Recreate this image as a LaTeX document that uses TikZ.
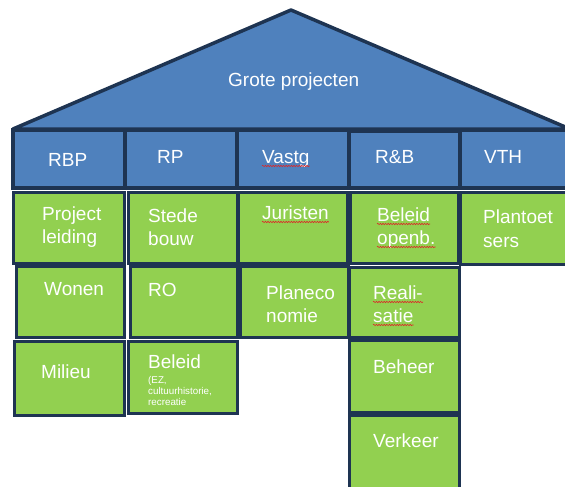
\documentclass[tikz,border=0pt]{standalone}
\usepackage{fontspec}
\setmainfont{Liberation Sans}
\usetikzlibrary{decorations.pathmorphing}
\definecolor{roofblue}{HTML}{4F81BD}
\definecolor{cellgreen}{HTML}{92D050}
\definecolor{edgenavy}{RGB}{30,52,82}
\definecolor{spellred}{RGB}{220,40,40}
\tikzset{
  roof/.style={fill=roofblue, draw=edgenavy, line width=3.5pt, line join=round},
  headbox/.style={fill=roofblue, draw=edgenavy, line width=3.5pt},
  cellbox/.style={fill=cellgreen, draw=edgenavy, line width=3pt},
  lbl/.style={anchor=base west, inner sep=0pt, text=white, font=\fontsize{19}{23}\selectfont},
  small/.style={anchor=base west, inner sep=0pt, text=white, font=\fontsize{9.8}{11}\selectfont},
  spell/.style={draw=spellred, line width=0.6pt,
    decorate, decoration={snake, segment length=2.6pt, amplitude=0.7pt}}
}
\begin{document}
\begin{tikzpicture}[x=1pt,y=-1pt]
\useasboundingbox (0,0) rectangle (565,487);
\clip (0,0) rectangle (565,487);

% roof
\draw[roof] (13,129) -- (291,10) -- (570,129) -- cycle;
\node[lbl] (roofTxt) at (228,86) {Grote projecten};

% department headers
\draw[headbox] (13,130) rectangle (125,188);
\draw[headbox] (125,130) rectangle (237,188);
\draw[headbox] (237,130) rectangle (349,188);
\draw[headbox] (349,131) rectangle (460,188);
\draw[headbox] (460,130) rectangle (572,188);
\node[lbl] (hRBP) at (48,166) {RBP};
\node[lbl] (hRP) at (157,163) {RP};
\node[lbl] (hVastg) at (262,163) {Vastg};
\node[lbl] (hRB) at (375,163) {R\&B};
\node[lbl] (hVTH) at (484,163) {VTH};

% row 1
\draw[cellbox] (13,192) rectangle (124,263);
\draw[cellbox] (128,192) rectangle (237,263);
\draw[cellbox] (238,192) rectangle (347,263);
\draw[cellbox] (350,192) rectangle (458,263);
\draw[cellbox] (460,192) rectangle (572,264);
\node[lbl] (projA) at (42,220) {Project};
\node[lbl] (projB) at (42,243) {leiding};
\node[lbl] (stedA) at (148,222) {Stede};
\node[lbl] (stedB) at (148,245) {bouw};
\node[lbl] (jur) at (262,219) {Juristen};
\node[lbl] (belA) at (377,221) {Beleid};
\node[lbl] (belB) at (377,244) {openb.};
\node[lbl] (plaA) at (483,223) {Plantoet};
\node[lbl] (plaB) at (483,247) {sers};

% row 2
\draw[cellbox] (16,266) rectangle (124,337);
\draw[cellbox] (130,266) rectangle (237,337);
\draw[cellbox] (240,266) rectangle (348,337);
\draw[cellbox] (349,267) rectangle (459,337);
\node[lbl] (won) at (44,295) {Wonen};
\node[lbl] (ro) at (148,296) {RO};
\node[lbl] (plecA) at (266,299) {Planeco};
\node[lbl] (plecB) at (266,322) {nomie};
\node[lbl] (realA) at (373,299) {Reali-};
\node[lbl] (realB) at (373,322) {satie};

% row 3
\draw[cellbox] (14,341) rectangle (124,415);
\draw[cellbox] (128,341) rectangle (237,413);
\draw[cellbox] (349,340) rectangle (459,412);
\node[lbl] (mil) at (41,378) {Milieu};
\node[lbl] (belC) at (148,368) {Beleid};
\node[small] (ez) at (148,383) {(EZ,};
\node[small] (cult) at (148,394) {cultuurhistorie,};
\node[small] (recr) at (148,405) {recreatie};
\node[lbl] (beh) at (373,373) {Beheer};

% row 4
\draw[cellbox] (349,415) rectangle (459,492);
\node[lbl] (verk) at (373,447) {Verkeer};

% spelling marks under flagged words
\foreach \w in {hVastg,jur,belA,belB,realA,realB}
  \draw[spell] ([yshift=-3pt]\w.base west) -- ([yshift=-3pt]\w.base east);
\end{tikzpicture}
\end{document}
